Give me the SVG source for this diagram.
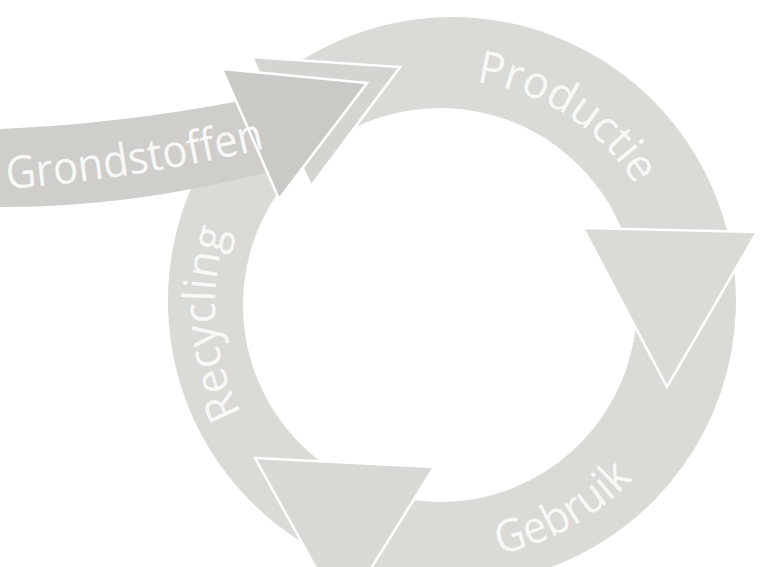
<svg xmlns="http://www.w3.org/2000/svg" width="761" height="567" viewBox="0 0 761 567">
  <style>
    .band { fill: #dadad7; }
    .head { stroke: #ffffff; stroke-width: 2.5; stroke-linejoin: miter; }
    .lbl { font-family: "Open Sans", "Liberation Sans", sans-serif; font-size: 45px; fill: #f8f8f6; }
  </style>
  <defs>
    <path id="p-prod" d="M 476,82.2 A 223 223 0 0 1 661.4,245.3"/>
    <path id="p-gebr" d="M 499.2,554.4 A 257 257 0 0 0 668.6,431"/>
    <path id="p-recy" d="M 241.9,413 A 231 231 0 0 1 257.6,171.1"/>
    <path id="p-gron" d="M 7,189 Q 140,179 278,145"/>
  </defs>
  <rect width="761" height="567" fill="#ffffff"/>

  <g id="productie">
    <path class="band" d="M 269.4,83.5 A 284 284 0 0 1 733.2,261.5 L 635.1,277.6 A 197 197 0 0 0 313.4,154.1 Z"/>
    <text class="lbl"><textPath href="#p-prod" textLength="196" lengthAdjust="spacingAndGlyphs">Productie</textPath></text>
  </g>
  <g id="gebruik">
    <path class="band" d="M 726.3,227.5 A 284 284 0 0 1 310,546.9 L 341.5,475.6 A 197 197 0 0 0 630.3,254 Z"/>
    <text class="lbl"><textPath href="#p-gebr" textLength="156" lengthAdjust="spacingAndGlyphs">Gebruik</textPath></text>
  </g>
  <g id="recycling">
    <path class="band" d="M 345.6,564.3 A 284 284 0 0 1 277.1,77.2 L 318.7,149.8 A 197 197 0 0 0 366.2,487.7 Z"/>
    <text class="lbl"><textPath href="#p-recy" textLength="188" lengthAdjust="spacingAndGlyphs">Recycling</textPath></text>
  </g>

  <g id="connectors">
    <polygon class="head" fill="#dadad7" points="583,228 757,232 667,387"/>
    <polygon class="head" fill="#d8d8d5" points="255,458 434,467 342,615"/>
    <polygon class="head" fill="#d4d4d1" points="252,57 400,67 311,186"/>
  </g>

  <g id="grondstoffen">
    <path fill="#cfcecb" d="M 0,129 Q 121,124 245,100 L 272,171 Q 131,208 0,207 Z"/>
    <polygon class="head" fill="#c9c9c6" points="222,69 367,83 279,199"/>
    <text class="lbl"><textPath href="#p-gron" textLength="262" lengthAdjust="spacingAndGlyphs">Grondstoffen</textPath></text>
  </g>
</svg>
